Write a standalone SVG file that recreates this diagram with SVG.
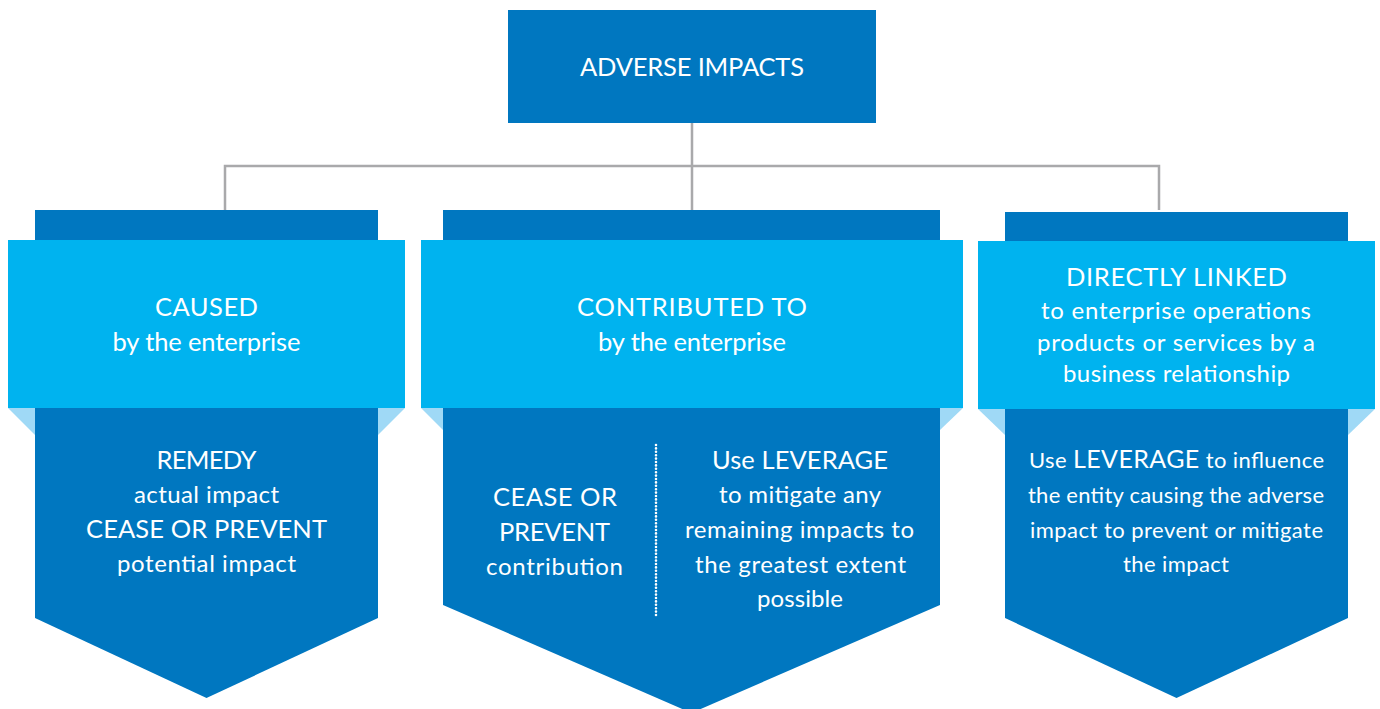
<svg xmlns="http://www.w3.org/2000/svg" width="1380" height="709" viewBox="0 0 1380 709">
  <style>
    .dark { fill: #0077c0; }
    .band { fill: #00b3ef; }
    .fold { fill: #9fd9f6; }
    .link { fill: none; stroke: #a9a9ab; stroke-width: 2.5; }
    .dots { stroke: #ffffff; stroke-width: 2.6; stroke-linecap: round; stroke-dasharray: 0 3.4; }
    text { font-family: Lato, "Open Sans", "Liberation Sans", sans-serif; fill: #ffffff; text-anchor: middle; }
    .h { font-size: 25.5px; }
    .b { font-size: 24px; }
    .s { font-size: 22px; }
  </style>

  <rect width="1380" height="709" fill="#ffffff"/>

  <!-- tree connectors -->
  <g id="connectors">
    <path class="link" d="M692 123 V166 M225 210 V166 H1159 V210 M692 166 V210"/>
  </g>

  <!-- root -->
  <g id="adverse-impacts">
    <rect class="dark" x="508" y="10" width="368" height="113"/>
    <text class="h" x="692" y="76" textLength="224" lengthAdjust="spacing">ADVERSE IMPACTS</text>
  </g>

  <!-- caused -->
  <g id="caused">
    <path class="dark" d="M35 210 H378 V618 L206.5 698 L35 618 Z"/>
    <polygon class="fold" points="8,408 35,408 35,435"/>
    <polygon class="fold" points="405,408 378,408 378,435"/>
    <rect class="band" x="8" y="240" width="397" height="168"/>
    <text class="h" x="206.5" y="316" textLength="103" lengthAdjust="spacing">CAUSED</text>
    <text class="h" x="206.5" y="351" textLength="188" lengthAdjust="spacing">by the enterprise</text>
    <text class="h" x="206.5" y="469" textLength="100" lengthAdjust="spacing">REMEDY</text>
    <text class="b" x="206.5" y="503" textLength="145" lengthAdjust="spacing">actual impact</text>
    <text class="h" x="206.5" y="538" textLength="241" lengthAdjust="spacing">CEASE OR PREVENT</text>
    <text class="b" x="206.5" y="572" textLength="179" lengthAdjust="spacing">potential impact</text>
  </g>

  <!-- contributed to -->
  <g id="contributed-to">
    <path class="dark" d="M443 210 H940 V605 L691.5 713 L443 605 Z"/>
    <polygon class="fold" points="421,408 443,408 443,430"/>
    <polygon class="fold" points="963,408 940,408 940,430"/>
    <rect class="band" x="421" y="240" width="542" height="168"/>
    <text class="h" x="692" y="316" textLength="230" lengthAdjust="spacing">CONTRIBUTED TO</text>
    <text class="h" x="692" y="351" textLength="188" lengthAdjust="spacing">by the enterprise</text>
    <line class="dots" x1="656" y1="445" x2="656" y2="617"/>
    <text class="h" x="555" y="506" textLength="124" lengthAdjust="spacing">CEASE OR</text>
    <text class="h" x="554.5" y="541" textLength="111" lengthAdjust="spacing">PREVENT</text>
    <text class="b" x="554.5" y="575" textLength="137" lengthAdjust="spacing">contribution</text>
    <text class="h" x="800" y="469" textLength="176" lengthAdjust="spacing">Use LEVERAGE</text>
    <text class="b" x="800" y="503" textLength="162" lengthAdjust="spacing">to mitigate any</text>
    <text class="b" x="799.5" y="538" textLength="229" lengthAdjust="spacing">remaining impacts to</text>
    <text class="b" x="800.5" y="573" textLength="211" lengthAdjust="spacing">the greatest extent</text>
    <text class="b" x="800" y="607" textLength="86" lengthAdjust="spacing">possible</text>
  </g>

  <!-- directly linked -->
  <g id="directly-linked">
    <path class="dark" d="M1005 212 H1348 V618 L1176.5 698 L1005 618 Z"/>
    <polygon class="fold" points="978,409 1005,409 1005,435"/>
    <polygon class="fold" points="1375,409 1348,409 1348,435"/>
    <rect class="band" x="978" y="241" width="397" height="168"/>
    <text class="h" x="1176.5" y="286" textLength="221" lengthAdjust="spacing">DIRECTLY LINKED</text>
    <text class="b" x="1176" y="319" textLength="270" lengthAdjust="spacing">to enterprise operations</text>
    <text class="b" x="1176" y="351" textLength="278" lengthAdjust="spacing">products or services by a</text>
    <text class="b" x="1176.5" y="382" textLength="227" lengthAdjust="spacing">business relationship</text>
    <text class="s" x="1176.5" y="468" textLength="295" lengthAdjust="spacing">Use <tspan font-size="25px">LEVERAGE</tspan> to influence</text>
    <text class="s" x="1176" y="503" textLength="296" lengthAdjust="spacing">the entity causing the adverse</text>
    <text class="s" x="1176.5" y="538" textLength="293" lengthAdjust="spacing">impact to prevent or mitigate</text>
    <text class="s" x="1176" y="572" textLength="106" lengthAdjust="spacing">the impact</text>
  </g>
</svg>
